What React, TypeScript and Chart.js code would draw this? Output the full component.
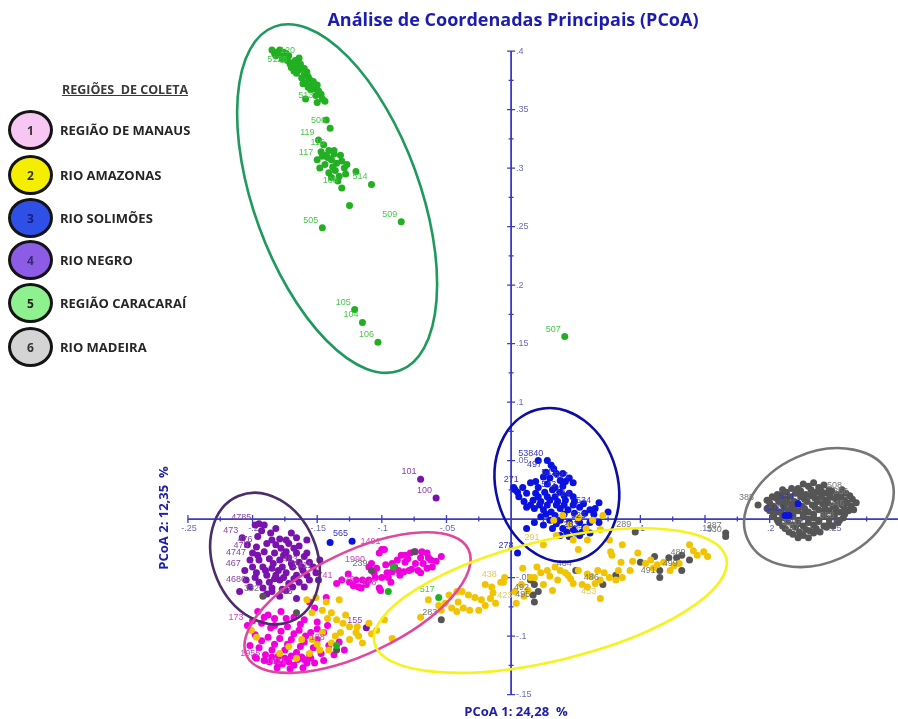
import React, { useEffect, useRef } from "react";
import { Chart, registerables } from "chart.js";

Chart.register(...registerables);

type P = [number, number, string?];

// ---------------- data (PCoA 1, PCoA 2, sample label) ----------------
const manausPts: P[] = [
  [-0.102, -0.029], [-0.098, -0.026, "1491"], [-0.108, -0.038], [-0.110, -0.041, "1990"], [-0.104, -0.042],
  [-0.097, -0.039], [-0.092, -0.038], [-0.088, -0.035], [-0.085, -0.031], [-0.082, -0.031],
  [-0.078, -0.029], [-0.074, -0.028], [-0.069, -0.028], [-0.065, -0.029], [-0.070, -0.033],
  [-0.074, -0.038], [-0.079, -0.044], [-0.083, -0.045], [-0.087, -0.044], [-0.092, -0.045],
  [-0.095, -0.050], [-0.100, -0.050], [-0.105, -0.050], [-0.110, -0.052], [-0.115, -0.052],
  [-0.120, -0.052], [-0.125, -0.054], [-0.131, -0.052], [-0.102, -0.059], [-0.093, -0.054],
  [-0.116, -0.059], [-0.064, -0.033], [-0.062, -0.035], [-0.054, -0.032], [-0.065, -0.042],
  [-0.072, -0.044], [-0.077, -0.043], [-0.082, -0.037], [-0.135, -0.055, "741"], [-0.118, -0.058, "176"],
  [-0.100, -0.026], [-0.101, -0.061, "148"], [-0.152, -0.076], [-0.156, -0.071], [-0.143, -0.067],
  [-0.090, -0.041], [-0.086, -0.048], [-0.096, -0.046], [-0.106, -0.046], [-0.112, -0.056],
  [-0.122, -0.057], [-0.080, -0.034], [-0.068, -0.038], [-0.058, -0.036], [-0.126, -0.047],
  [-0.196, -0.079], [-0.188, -0.082], [-0.178, -0.079], [-0.168, -0.084], [-0.160, -0.086],
  [-0.150, -0.088], [-0.142, -0.091], [-0.193, -0.089], [-0.183, -0.091], [-0.173, -0.092],
  [-0.164, -0.095], [-0.155, -0.097], [-0.145, -0.097], [-0.198, -0.099], [-0.188, -0.101],
  [-0.179, -0.102], [-0.170, -0.103], [-0.160, -0.105], [-0.150, -0.103], [-0.141, -0.108, "188"],
  [-0.195, -0.110], [-0.185, -0.112], [-0.175, -0.112], [-0.166, -0.114], [-0.156, -0.116],
  [-0.147, -0.115], [-0.191, -0.121, "1955"], [-0.181, -0.122], [-0.172, -0.122], [-0.162, -0.118],
  [-0.152, -0.123], [-0.187, -0.122], [-0.177, -0.124], [-0.168, -0.125], [-0.158, -0.123],
  [-0.202, -0.108], [-0.198, -0.118], [-0.133, -0.105], [-0.137, -0.116], [-0.129, -0.112],
  [-0.145, -0.121], [-0.174, -0.085], [-0.204, -0.091, "173"], [-0.061, -0.041], [-0.070, -0.046],
  [-0.191, -0.084], [-0.183, -0.085], [-0.178, -0.096], [-0.168, -0.098], [-0.159, -0.100],
  [-0.150, -0.094], [-0.193, -0.104], [-0.183, -0.107], [-0.173, -0.107], [-0.163, -0.109],
  [-0.153, -0.110], [-0.190, -0.116], [-0.180, -0.117], [-0.170, -0.117], [-0.160, -0.120],
  [-0.185, -0.118], [-0.175, -0.119], [-0.165, -0.120], [-0.155, -0.119], [-0.197, -0.119],
  [-0.181, -0.127], [-0.171, -0.128, "1031"], [-0.161, -0.127], [-0.200, -0.087], [-0.186, -0.093],
  [-0.163, -0.090],
];

const amazonasPts: P[] = [
  [-0.154, -0.080], [-0.146, -0.078], [-0.139, -0.080], [-0.135, -0.086], [-0.128, -0.082],
  [-0.125, -0.092], [-0.119, -0.092], [-0.120, -0.097], [-0.110, -0.089], [-0.132, -0.097],
  [-0.146, -0.097], [-0.154, -0.103], [-0.139, -0.106], [-0.148, -0.112], [-0.156, -0.115],
  [-0.162, -0.103], [-0.172, -0.109], [-0.125, -0.103], [-0.115, -0.106], [-0.166, -0.119],
  [-0.179, -0.115], [-0.197, -0.101], [-0.201, -0.095], [-0.151, -0.067], [-0.158, -0.069],
  [-0.143, -0.071], [-0.092, -0.102], [-0.104, -0.095], [-0.133, -0.069], [-0.098, -0.086],
  [-0.142, -0.085], [-0.130, -0.089], [-0.136, -0.100], [-0.141, -0.112], [-0.118, -0.100],
  [-0.150, -0.107], [-0.108, -0.098],
  [-0.038, -0.062], [-0.033, -0.065], [-0.028, -0.067], [-0.023, -0.069], [-0.020, -0.074],
  [-0.016, -0.068], [-0.014, -0.063], [-0.015, -0.058], [-0.020, -0.056], [-0.012, -0.072],
  [-0.025, -0.078], [-0.032, -0.078], [-0.037, -0.076], [-0.042, -0.079], [-0.041, -0.071],
  [-0.046, -0.076], [-0.051, -0.072], [-0.056, -0.074], [-0.054, -0.078], [-0.008, -0.054, "438"],
  [-0.005, -0.050], [-0.042, -0.062], [-0.048, -0.065], [-0.070, -0.084], [-0.064, -0.069],
  [-0.006, -0.054], [0.004, -0.072, "423"], [0.009, -0.042], [0.015, -0.050], [0.008, -0.056],
  [0.018, -0.050], [0.023, -0.046], [0.028, -0.044], [0.034, -0.041], [0.042, -0.046],
  [0.048, -0.055], [0.055, -0.056], [0.059, -0.058], [0.065, -0.055], [0.069, -0.052],
  [0.076, -0.050], [0.081, -0.052], [0.086, -0.050], [0.092, -0.044], [0.085, -0.037],
  [0.077, -0.028], [0.078, -0.031], [0.098, -0.029], [0.104, -0.038], [0.108, -0.035],
  [0.113, -0.039], [0.118, -0.037], [0.123, -0.044], [0.130, -0.038], [0.138, -0.022],
  [0.144, -0.031], [0.149, -0.028], [0.152, -0.032], [0.069, -0.068, "453"], [0.044, -0.048],
  [0.052, -0.044], [0.036, -0.052], [0.025, -0.056], [0.013, -0.061], [0.032, -0.061],
  [0.059, -0.047], [0.067, -0.044], [0.020, -0.041], [0.030, -0.049], [0.038, -0.044],
  [0.046, -0.051], [0.062, -0.049], [0.072, -0.046], [0.083, -0.044], [0.094, -0.036],
  [0.110, -0.042], [0.126, -0.040], [0.141, -0.027], [0.003, -0.062], [0.010, -0.066],
  [0.033, -0.001], [0.040, 0.003], [0.045, -0.005],
  [0.052, 0.001], [0.058, -0.008], [0.063, -0.001], [0.069, -0.009], [0.035, -0.014],
  [0.048, -0.018], [0.059, -0.018], [0.071, 0.003], [0.025, -0.022, "291"], [0.076, -0.018],
  [0.052, -0.026], [0.086, -0.022],
];

const solimoesPts: P[] = [
  [0.021, 0.050], [0.028, 0.050, "53840"], [0.031, 0.046], [0.027, 0.040, "497"], [0.035, 0.039],
  [0.040, 0.039], [0.025, 0.036], [0.030, 0.035], [0.038, 0.033, "542"], [0.042, 0.032],
  [0.048, 0.031, "541"], [0.002, 0.027], [0.009, 0.027, "271"], [0.015, 0.031], [0.019, 0.032],
  [0.005, 0.023], [0.012, 0.022], [0.019, 0.022], [0.026, 0.023], [0.032, 0.025],
  [0.038, 0.023, "543"], [0.045, 0.022], [0.017, 0.016], [0.023, 0.015], [0.030, 0.016],
  [0.036, 0.015], [0.042, 0.016], [0.049, 0.015, "524"], [0.012, 0.010], [0.018, 0.009],
  [0.025, 0.008], [0.031, 0.006], [0.038, 0.009], [0.044, 0.008], [0.053, 0.010],
  [0.061, 0.008], [0.065, 0.009, "534"], [0.068, 0.014], [0.023, 0.002], [0.030, -0.001],
  [0.038, -0.001], [0.045, -0.003], [0.053, -0.003], [0.061, -0.003, "525"], [0.012, -0.008],
  [0.025, -0.005], [0.032, -0.008], [0.040, -0.008], [0.048, -0.009], [0.055, -0.011, "263"],
  [0.038, -0.014], [0.045, -0.015], [0.053, -0.014], [0.061, -0.012], [0.068, -0.003],
  [0.075, 0.006], [0.005, -0.029, "278"], [0.003, 0.025],
  [0.006, 0.019], [0.010, 0.015], [0.015, 0.012], [0.021, 0.019], [0.028, 0.019],
  [0.034, 0.019], [0.041, 0.020], [0.048, 0.019], [0.022, 0.012], [0.028, 0.012],
  [0.035, 0.012], [0.041, 0.012], [0.048, 0.012], [0.056, 0.013], [0.027, 0.004],
  [0.034, 0.003], [0.041, 0.004], [0.049, 0.005], [0.057, 0.005], [0.064, 0.004],
  [0.034, 0.027], [0.040, 0.028], [0.028, 0.030], [0.021, 0.027], [0.045, 0.035],
  [0.033, 0.043], [0.018, -0.003], [0.035, -0.004], [0.057, -0.007], [0.050, -0.012],
  [0.043, -0.011],
  [-0.123, -0.019, "565"], [-0.140, -0.020],
  [0.222, 0.013, "544"], [0.212, 0.003], [0.215, 0.003, "5483"],
];

const negroPts: P[] = [
  [-0.198, -0.005, "4785"], [-0.195, -0.004], [-0.191, -0.005], [-0.208, -0.016, "473"], [-0.196, -0.015],
  [-0.185, -0.018], [-0.179, -0.017], [-0.174, -0.018], [-0.166, -0.016], [-0.158, -0.018],
  [-0.197, -0.024, "476"], [-0.189, -0.021], [-0.182, -0.022], [-0.172, -0.021], [-0.164, -0.023],
  [-0.200, -0.029, "479"], [-0.191, -0.028], [-0.183, -0.029], [-0.174, -0.028], [-0.166, -0.029],
  [-0.158, -0.029], [-0.202, -0.035, "4747"], [-0.195, -0.035], [-0.187, -0.034], [-0.179, -0.035],
  [-0.172, -0.033], [-0.164, -0.037], [-0.156, -0.037], [-0.200, -0.041], [-0.192, -0.041],
  [-0.185, -0.042], [-0.177, -0.041], [-0.169, -0.041], [-0.162, -0.041, "483"], [-0.197, -0.046],
  [-0.189, -0.048], [-0.182, -0.048], [-0.174, -0.046], [-0.166, -0.048], [-0.158, -0.048],
  [-0.151, -0.046, "2411"], [-0.195, -0.054], [-0.187, -0.054], [-0.179, -0.052], [-0.172, -0.055],
  [-0.164, -0.054], [-0.156, -0.052], [-0.202, -0.058, "4686"], [-0.192, -0.059], [-0.185, -0.059],
  [-0.177, -0.060], [-0.169, -0.058], [-0.210, -0.062], [-0.185, -0.062], [-0.174, -0.061],
  [-0.166, -0.068, "465"], [-0.204, -0.022], [-0.148, -0.035], [-0.198, -0.050], [-0.206, -0.044, "467"],
  [-0.193, -0.010], [-0.186, -0.012], [-0.178, -0.025], [-0.168, -0.025], [-0.160, -0.032],
  [-0.176, -0.031], [-0.184, -0.038], [-0.170, -0.038], [-0.196, -0.031], [-0.190, -0.044],
  [-0.180, -0.044], [-0.161, -0.044], [-0.153, -0.041], [-0.176, -0.050], [-0.168, -0.051],
  [-0.183, -0.051], [-0.160, -0.058], [-0.189, -0.064], [-0.179, -0.066], [-0.205, -0.052],
  [-0.149, -0.052], [-0.170, -0.012], [-0.182, -0.008],
  [-0.112, -0.093, "155"], [-0.070, 0.034, "101"], [-0.058, 0.018, "100"],
];

const caracaraiPts: P[] = [
  [-0.185, 0.401], [-0.181, 0.399], [-0.178, 0.397], [-0.182, 0.396], [-0.175, 0.394],
  [-0.172, 0.396], [-0.173, 0.392], [-0.169, 0.390], [-0.167, 0.392], [-0.165, 0.387],
  [-0.170, 0.386, "5128"], [-0.164, 0.384], [-0.162, 0.386], [-0.166, 0.381], [-0.160, 0.380],
  [-0.158, 0.382], [-0.162, 0.377], [-0.156, 0.376], [-0.159, 0.373], [-0.154, 0.371],
  [-0.152, 0.368], [-0.155, 0.367], [-0.149, 0.366], [-0.147, 0.363], [-0.164, 0.394, "120"],
  [-0.176, 0.399], [-0.168, 0.383], [-0.161, 0.372], [-0.159, 0.359], [-0.150, 0.356, "513"],
  [-0.183, 0.398], [-0.177, 0.393], [-0.171, 0.389], [-0.168, 0.386], [-0.163, 0.389],
  [-0.160, 0.385], [-0.157, 0.378], [-0.153, 0.374], [-0.150, 0.371], [-0.157, 0.369],
  [-0.151, 0.362], [-0.146, 0.359], [-0.144, 0.357], [-0.174, 0.398], [-0.179, 0.401],
  [-0.143, 0.341], [-0.140, 0.334, "506"], [-0.149, 0.324, "119"], [-0.145, 0.320], [-0.141, 0.315, "116"],
  [-0.147, 0.314], [-0.137, 0.315], [-0.142, 0.309], [-0.150, 0.307, "117"], [-0.139, 0.307],
  [-0.135, 0.304], [-0.144, 0.303], [-0.132, 0.311], [-0.129, 0.300], [-0.136, 0.298],
  [-0.141, 0.296], [-0.133, 0.293], [-0.127, 0.303], [-0.139, 0.292], [-0.120, 0.297],
  [-0.143, 0.311], [-0.138, 0.301], [-0.131, 0.306], [-0.134, 0.289], [-0.146, 0.310],
  [-0.128, 0.295], [-0.137, 0.312], [-0.148, 0.300],
  [-0.108, 0.286, "514"], [-0.131, 0.283, "108"], [-0.125, 0.268], [-0.085, 0.254, "509"], [-0.146, 0.249, "505"],
  [-0.121, 0.179, "105"], [-0.115, 0.168, "104"], [-0.103, 0.151, "106"], [0.0415, 0.156, "507"],
  [-0.056, -0.067, "517"], [-0.095, -0.062], [-0.091, -0.041], [-0.135, -0.108],
];

const madeiraPts: P[] = [
  [0.222, 0.026], [0.230, 0.028], [0.238, 0.027], [0.246, 0.025],
  [0.226, 0.030], [0.234, 0.031], [0.242, 0.029],
  [0.206, 0.021], [0.213, 0.023], [0.220, 0.022], [0.228, 0.021], [0.236, 0.023], [0.244, 0.022], [0.252, 0.021], [0.259, 0.022, "508"],
  [0.210, 0.025], [0.217, 0.026], [0.224, 0.024], [0.232, 0.025], [0.240, 0.024], [0.248, 0.024], [0.256, 0.025],
  [0.198, 0.016], [0.205, 0.018], [0.212, 0.017], [0.219, 0.015], [0.227, 0.017], [0.235, 0.018], [0.243, 0.016], [0.251, 0.017], [0.258, 0.016], [0.264, 0.017, "356"],
  [0.202, 0.019], [0.209, 0.020], [0.216, 0.019], [0.224, 0.019], [0.232, 0.020], [0.240, 0.019], [0.247, 0.019], [0.255, 0.019], [0.262, 0.020],
  [0.191, 0.012, "385"], [0.203, 0.011], [0.210, 0.013], [0.217, 0.012], [0.225, 0.011], [0.233, 0.012], [0.241, 0.013], [0.249, 0.011], [0.256, 0.012], [0.263, 0.011],
  [0.200, 0.014], [0.207, 0.015], [0.214, 0.014], [0.221, 0.014], [0.229, 0.015], [0.237, 0.015], [0.245, 0.014], [0.253, 0.014], [0.260, 0.014], [0.267, 0.014],
  [0.200, 0.007], [0.207, 0.006], [0.214, 0.008], [0.222, 0.007], [0.230, 0.006], [0.238, 0.008], [0.246, 0.007], [0.254, 0.006], [0.261, 0.007, "346"],
  [0.198, 0.009], [0.204, 0.009], [0.211, 0.010], [0.219, 0.009], [0.227, 0.009], [0.235, 0.010], [0.243, 0.009], [0.251, 0.009], [0.258, 0.009], [0.265, 0.008],
  [0.203, 0.002], [0.210, 0.001], [0.218, 0.003], [0.226, 0.002], [0.234, 0.001], [0.242, 0.003], [0.250, 0.002], [0.257, 0.001],
  [0.203, 0.004], [0.210, 0.004], [0.218, 0.005], [0.226, 0.004], [0.234, 0.004], [0.242, 0.005], [0.250, 0.004], [0.258, 0.004],
  [0.207, -0.003], [0.214, -0.002], [0.222, -0.004], [0.230, -0.003], [0.238, -0.002], [0.246, -0.004], [0.253, -0.003, "388"],
  [0.206, -0.001], [0.214, 0.000], [0.222, -0.001], [0.230, 0.000], [0.238, -0.001], [0.246, 0.000], [0.254, -0.001],
  [0.212, -0.008], [0.220, -0.007], [0.228, -0.009, "3397"], [0.236, -0.008], [0.244, -0.007],
  [0.210, -0.006], [0.218, -0.005], [0.226, -0.006], [0.234, -0.005], [0.242, -0.006], [0.249, -0.006],
  [0.218, -0.013], [0.226, -0.014, "367"], [0.234, -0.012],
  [0.215, -0.011], [0.223, -0.011], [0.231, -0.010], [0.239, -0.011], [0.222, -0.016], [0.230, -0.016],
  [0.166, -0.012, "287"], [0.166, -0.015, "330"], [0.096, -0.011, "289"],
  [0.015, -0.052], [0.018, -0.056], [0.017, -0.065, "492"], [0.021, -0.062], [0.018, -0.071, "495"],
  [0.050, -0.044, "484"], [0.071, -0.056, "486"], [0.081, -0.048], [0.100, -0.037], [0.111, -0.032],
  [0.115, -0.044], [0.115, -0.050, "491"], [0.122, -0.033], [0.128, -0.033], [0.132, -0.031],
  [0.132, -0.044, "499"], [0.138, -0.035, "489"],
  [-0.054, -0.086, "283"], [-0.192, -0.066, "332"], [-0.166, -0.080], [-0.135, -0.112],
  [-0.108, -0.044, "239"], [-0.075, -0.028],
];

// axis ticks
const xTickValues = [-0.25, -0.2, -0.15, -0.1, -0.05, 0.05, 0.1, 0.15, 0.2, 0.25];
const yTickValues = [0.4, 0.35, 0.3, 0.25, 0.2, 0.15, 0.1, 0.05, -0.05, -0.1, -0.15];

// confidence ellipses: centre in data units, radii in px, rotation in degrees
const ellipses = [
  { cx: -0.1346, cy: 0.2739, rx: 83, ry: 183, rot: -20, color: "#1f9a5e" },
  { cx: 0.0354, cy: 0.0291, rx: 61, ry: 78, rot: -15, color: "#0c0ca6" },
  { cx: 0.2381, cy: 0.0098, rx: 78, ry: 55, rot: -24, color: "#767676" },
  { cx: -0.1904, cy: -0.0338, rx: 52, ry: 68, rot: -23, color: "#4b2d6b" },
  { cx: -0.1188, cy: -0.0714, rx: 123, ry: 51, rot: -25.6, color: "#e0489e" },
  { cx: 0.0304, cy: -0.0697, rx: 181, ry: 60, rot: -13.6, color: "#f4f41a" },
];

const regions = [
  { num: "1", name: "REGIÃO DE MANAUS", pts: manausPts, color: "#f000dc", text: "#cc44c4", fill: "#f8c6f2", numColor: "#333", order: 5 },
  { num: "2", name: "RIO AMAZONAS", pts: amazonasPts, color: "#f0c400", text: "#e6c85a", fill: "#f4ee00", numColor: "#333", order: 1 },
  { num: "3", name: "RIO SOLIMÕES", pts: solimoesPts, color: "#0a12e0", text: "#3434c0", fill: "#2e50e6", numColor: "#1a1a72", order: 2 },
  { num: "4", name: "RIO NEGRO", pts: negroPts, color: "#7a12ae", text: "#8a44aa", fill: "#8c5ce6", numColor: "#3a2a72", order: 4 },
  { num: "5", name: "REGIÃO CARACARAÍ", pts: caracaraiPts, color: "#22b022", text: "#4cc44c", fill: "#8ef08e", numColor: "#222", order: 0 },
  { num: "6", name: "RIO MADEIRA", pts: madeiraPts, color: "#555555", text: "#777777", fill: "#d4d4d4", numColor: "#333", order: 3 },
];

const X_MIN = -0.26;
const X_MAX = 0.2962;
const Y_MIN = -0.1598;
const Y_MAX = 0.4103;
const AXIS_BLUE = "#3b3bc6";

const fmt = (v: number) => String(+v.toFixed(3)).replace(/^(-?)0\./, "$1.");

const axesPlugin = {
  id: "centerAxes",
  beforeDatasetsDraw(chart: any) {
    const { ctx } = chart;
    const xs = chart.scales.x;
    const ys = chart.scales.y;
    const x0 = xs.getPixelForValue(0);
    const y0 = ys.getPixelForValue(0);
    ctx.save();
    ctx.strokeStyle = AXIS_BLUE;
    ctx.lineWidth = 1.8;
    ctx.beginPath();
    ctx.moveTo(xs.getPixelForValue(-0.25), y0);
    ctx.lineTo(chart.width, y0);
    ctx.moveTo(x0, ys.getPixelForValue(0.4));
    ctx.lineTo(x0, ys.getPixelForValue(-0.15));
    ctx.stroke();
    ctx.lineWidth = 1.3;
    ctx.beginPath();
    for (let i = -10; i <= 11; i++) {
      const px = xs.getPixelForValue(i * 0.025);
      const len = i % 2 === 0 ? 4 : 2.5;
      if (i !== 0) {
        ctx.moveTo(px, y0 - len);
        ctx.lineTo(px, y0 + len);
      }
    }
    for (let i = -6; i <= 16; i++) {
      const py = ys.getPixelForValue(i * 0.025);
      const len = i % 2 === 0 ? 4 : 2.5;
      if (i !== 0) {
        ctx.moveTo(x0 - len, py);
        ctx.lineTo(x0 + len, py);
      }
    }
    ctx.stroke();
    ctx.fillStyle = "#6a6ab0";
    ctx.font = "9px 'Liberation Sans', Arial, sans-serif";
    ctx.textAlign = "center";
    ctx.textBaseline = "top";
    xTickValues.forEach((v) => ctx.fillText(fmt(v), xs.getPixelForValue(v) + 1, y0 + 5));
    ctx.textAlign = "left";
    ctx.textBaseline = "middle";
    yTickValues.forEach((v) => ctx.fillText(fmt(v), x0 + 5, ys.getPixelForValue(v)));
    ctx.restore();
  },
};

const overlayPlugin = {
  id: "overlay",
  afterDatasetsDraw(chart: any) {
    const { ctx } = chart;
    const xs = chart.scales.x;
    const ys = chart.scales.y;
    ctx.save();
    ctx.font = "9px 'Liberation Sans', Arial, sans-serif";
    ctx.textAlign = "right";
    ctx.textBaseline = "bottom";
    chart.data.datasets.forEach((ds: any, i: number) => {
      const meta = chart.getDatasetMeta(i);
      ctx.fillStyle = ds.labelColor;
      meta.data.forEach((el: any, j: number) => {
        const raw = ds.data[j];
        if (raw && raw.t) ctx.fillText(raw.t, el.x - 4, el.y - 3);
      });
    });
    ctx.lineWidth = 2.6;
    ellipses.forEach((e) => {
      ctx.strokeStyle = e.color;
      ctx.beginPath();
      ctx.ellipse(xs.getPixelForValue(e.cx), ys.getPixelForValue(e.cy), e.rx, e.ry, (e.rot * Math.PI) / 180, 0, Math.PI * 2);
      ctx.stroke();
    });
    ctx.restore();
  },
};

export default function App() {
  const canvasRef = useRef<HTMLCanvasElement | null>(null);

  useEffect(() => {
    if (!canvasRef.current) return;
    const chart = new Chart(canvasRef.current, {
      type: "scatter",
      data: {
        datasets: regions.map((r) => ({
          label: r.name,
          data: r.pts.map((p) => ({ x: p[0], y: p[1], t: p[2] || "" })),
          backgroundColor: r.color,
          borderWidth: 0,
          pointRadius: 3.5,
          order: r.order,
          labelColor: r.text,
        })) as any,
      },
      options: {
        responsive: false,
        animation: false,
        events: [],
        layout: { padding: { left: 175, right: 0, top: 39, bottom: 13 } },
        plugins: { legend: { display: false }, tooltip: { enabled: false }, title: { display: false } },
        scales: {
          x: { type: "linear", min: X_MIN, max: X_MAX, display: false },
          y: { type: "linear", min: Y_MIN, max: Y_MAX, display: false },
        },
      },
      plugins: [axesPlugin, overlayPlugin],
    });
    return () => chart.destroy();
  }, []);

  const legendY = [130, 175, 218, 260, 303, 347];

  return (
    <div style={{ position: "fixed", left: 0, top: 0, width: 898, height: 719, background: "#fff", fontFamily: "'Open Sans', sans-serif", overflow: "hidden" }}>
      <canvas ref={canvasRef} width={898} height={719} style={{ position: "absolute", left: 0, top: 0 }} />
      <div style={{ position: "absolute", left: 263, width: 500, top: 7, textAlign: "center", fontWeight: 700, fontSize: 18, lineHeight: "24px", color: "#1c1cae", whiteSpace: "nowrap" }}>
        Análise de Coordenadas Principais (PCoA)
      </div>
      <div style={{ position: "absolute", left: 366, width: 300, top: 702, textAlign: "center", fontWeight: 700, fontSize: 13, lineHeight: "18px", color: "#2020a4", whiteSpace: "pre" }}>
        {"PCoA 1: 24,28  %"}
      </div>
      <div style={{ position: "absolute", left: 163 - 150, width: 300, top: 518 - 9, textAlign: "center", fontWeight: 700, fontSize: 13, lineHeight: "18px", color: "#2020a4", whiteSpace: "pre", transform: "rotate(-90deg)" }}>
        {"PCoA 2: 12,35  %"}
      </div>
      <div style={{ position: "absolute", left: 40, width: 170, top: 81, textAlign: "center", fontWeight: 700, fontSize: 12.5, lineHeight: "18px", color: "#3a3a3a", textDecoration: "underline", whiteSpace: "pre" }}>
        {"REGIÕES  DE COLETA"}
      </div>
      {regions.map((r, i) => (
        <React.Fragment key={r.num}>
          <div style={{ position: "absolute", left: 8, top: legendY[i] - 20, width: 45, height: 40, boxSizing: "border-box", border: "3px solid #141414", borderRadius: "50%", background: r.fill, display: "flex", alignItems: "center", justifyContent: "center", fontWeight: 700, fontSize: 12, color: r.numColor }}>
            {r.num}
          </div>
          <div style={{ position: "absolute", left: 60, top: legendY[i] - 10, lineHeight: "20px", fontWeight: 700, fontSize: 13, color: "#262626", whiteSpace: "nowrap" }}>
            {r.name}
          </div>
        </React.Fragment>
      ))}
    </div>
  );
}
